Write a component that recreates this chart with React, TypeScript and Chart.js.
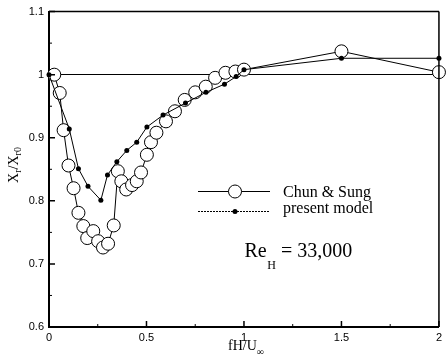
import { useEffect, useRef } from 'react';
import { Chart, registerables } from 'chart.js';

Chart.register(...registerables);

// Chun & Sung (open circles)
const chunX = [0.027, 0.055, 0.075, 0.1, 0.126, 0.151, 0.176, 0.196, 0.227, 0.252, 0.277, 0.303, 0.332, 0.353, 0.371, 0.396, 0.426, 0.45, 0.472, 0.502, 0.523, 0.551, 0.6, 0.646, 0.696, 0.75, 0.804, 0.852, 0.905, 0.956, 1.0, 1.5, 2.0];
const chunY = [1.0, 0.971, 0.912, 0.856, 0.82, 0.781, 0.76, 0.741, 0.752, 0.736, 0.726, 0.732, 0.761, 0.847, 0.831, 0.818, 0.825, 0.831, 0.845, 0.873, 0.893, 0.908, 0.926, 0.942, 0.96, 0.972, 0.981, 0.995, 1.003, 1.005, 1.008, 1.037, 1.004];

// present model (filled dots)
const modelX = [0.0, 0.104, 0.151, 0.2, 0.266, 0.3, 0.348, 0.399, 0.45, 0.502, 0.585, 0.7, 0.805, 0.9, 0.96, 1.0, 1.5, 2.0];
const modelY = [1.0, 0.914, 0.851, 0.823, 0.801, 0.841, 0.862, 0.88, 0.893, 0.917, 0.936, 0.955, 0.972, 0.985, 0.997, 1.008, 1.026, 1.026];

const xTicks = [0, 0.5, 1, 1.5, 2];
const xMinorTicks = [0.25, 0.75, 1.25, 1.75];
const yTicks = [0.6, 0.7, 0.8, 0.9, 1.0, 1.1];
const yMinorTicks = [0.65, 0.75, 0.85, 0.95, 1.05];
const refLineValue = 1.0;

const legendLabels = ['Chun & Sung', 'present model'];

const fmt = (v: number) => String(Number(v.toFixed(2)));

const decorPlugin = {
  id: 'decor',
  afterDatasetsDraw(chart: any) {
    const { ctx, chartArea, scales } = chart;
    const { left, right, top, bottom } = chartArea;
    const xs = scales.x;
    const ys = scales.y;
    ctx.save();
    ctx.strokeStyle = '#000';
    // top & right frame
    ctx.lineWidth = 1.5;
    ctx.beginPath();
    ctx.moveTo(left, top);
    ctx.lineTo(right, top);
    ctx.moveTo(right, top);
    ctx.lineTo(right, bottom);
    ctx.stroke();
    // inward ticks
    ctx.lineWidth = 1.5;
    ctx.beginPath();
    yTicks.forEach((v) => {
      const y = ys.getPixelForValue(v);
      ctx.moveTo(left, y);
      ctx.lineTo(left + 6, y);
    });
    xTicks.forEach((v) => {
      const x = xs.getPixelForValue(v);
      ctx.moveTo(x, bottom);
      ctx.lineTo(x, bottom - 6);
    });
    ctx.stroke();
    ctx.lineWidth = 1;
    ctx.beginPath();
    yMinorTicks.forEach((v) => {
      const y = ys.getPixelForValue(v);
      ctx.moveTo(left, y);
      ctx.lineTo(left + 3, y);
    });
    xMinorTicks.forEach((v) => {
      const x = xs.getPixelForValue(v);
      ctx.moveTo(x, bottom);
      ctx.lineTo(x, bottom - 3);
    });
    ctx.stroke();

    // legend
    const lx0 = 198, lx1 = 270, mx = 235;
    const ly1 = 191.5, ly2 = 211.5;
    ctx.lineWidth = 1;
    ctx.beginPath();
    ctx.moveTo(lx0, ly1);
    ctx.lineTo(lx1, ly1);
    ctx.stroke();
    ctx.setLineDash([2, 1]);
    ctx.beginPath();
    ctx.moveTo(lx0, ly2);
    ctx.lineTo(lx1, ly2);
    ctx.stroke();
    ctx.setLineDash([]);
    ctx.fillStyle = '#fff';
    ctx.beginPath();
    ctx.arc(mx, ly1, 6.5, 0, Math.PI * 2);
    ctx.fill();
    ctx.stroke();
    ctx.fillStyle = '#000';
    ctx.beginPath();
    ctx.arc(mx, ly2, 2.5, 0, Math.PI * 2);
    ctx.fill();

    ctx.fillStyle = '#000';
    ctx.textAlign = 'left';
    ctx.textBaseline = 'alphabetic';
    ctx.font = '16px "Liberation Serif"';
    ctx.fillText(legendLabels[0], 283, 197);
    ctx.fillText(legendLabels[1], 283, 213);

    // Re_H annotation
    ctx.font = '20px "Liberation Serif"';
    let x = 244.5;
    ctx.fillText('Re', x, 256.5);
    x += ctx.measureText('Re').width + 0.5;
    ctx.font = '12px "Liberation Serif"';
    ctx.fillText('H', x, 269);
    x += ctx.measureText('H').width;
    ctx.font = '20px "Liberation Serif"';
    ctx.fillText(' = 33,000', x, 256.5);

    // x title
    ctx.font = '14px "Liberation Serif"';
    const main = 'fH/U';
    const wMain = ctx.measureText(main).width;
    ctx.font = '10px "Liberation Serif"';
    const wSub = ctx.measureText('\u221e').width;
    let tx = 246 - (wMain + wSub) / 2;
    ctx.font = '14px "Liberation Serif"';
    ctx.fillText(main, tx, 350);
    ctx.font = '10px "Liberation Serif"';
    ctx.fillText('\u221e', tx + wMain, 355);

    // y title (rotated)
    ctx.translate(14, 165);
    ctx.rotate(-Math.PI / 2);
    const parts: [string, number, number][] = [
      ['X', 14, 0],
      ['r', 10, 3],
      ['/X', 14, 0],
      ['r0', 10, 3],
    ];
    let total = 0;
    parts.forEach(([t, s]) => {
      ctx.font = `${s}px "Liberation Serif"`;
      total += ctx.measureText(t).width;
    });
    let px = -total / 2;
    parts.forEach(([t, s, dy]) => {
      ctx.font = `${s}px "Liberation Serif"`;
      ctx.fillText(t, px, 4 + dy);
      px += ctx.measureText(t).width;
    });
    ctx.restore();
  },
};

export default function App() {
  const ref = useRef<HTMLCanvasElement | null>(null);
  useEffect(() => {
    document.body.style.margin = '0';
    const canvas = ref.current;
    if (!canvas) return;
    const chart = new Chart(canvas, {
      type: 'scatter',
      data: {
        datasets: [
          {
            label: legendLabels[1],
            data: modelX.map((x, i) => ({ x, y: modelY[i] })),
            showLine: true,
            borderColor: '#000',
            borderWidth: 1,
            backgroundColor: '#000',
            pointRadius: 2.5,
            pointBorderWidth: 0,
            pointBackgroundColor: '#000',
            order: 0,
            clip: false as any,
          },
          {
            label: legendLabels[0],
            data: chunX.map((x, i) => ({ x, y: chunY[i] })),
            showLine: true,
            borderColor: '#000',
            borderWidth: 1,
            pointRadius: 6.5,
            pointBorderWidth: 1,
            pointBorderColor: '#000',
            pointBackgroundColor: '#fff',
            order: 1,
            clip: false as any,
          },
        ],
      },
      options: {
        responsive: false,
        animation: false,
        events: [],
        layout: { padding: { top: 11, right: 2, left: 0, bottom: 0 }, autoPadding: false } as any,
        plugins: {
          legend: { display: false },
          tooltip: { enabled: false },
          title: { display: false },
        },
        scales: {
          x: {
            type: 'linear',
            min: 0,
            max: 2,
            afterBuildTicks: (s: any) => {
              s.ticks = xTicks.map((v) => ({ value: v }));
            },
            afterFit: (s: any) => {
              s.height = 34;
            },
            grid: { display: false, drawTicks: false },
            border: { display: true, color: '#000', width: 2 },
            ticks: {
              padding: 4,
              color: '#000',
              font: { family: '"Liberation Sans"', size: 11 },
              callback: (v: any) => fmt(Number(v)),
              maxRotation: 0,
              autoSkip: false,
            },
          },
          y: {
            type: 'linear',
            min: 0.6,
            max: 1.1,
            afterBuildTicks: (s: any) => {
              s.ticks = yTicks.map((v) => ({ value: v }));
            },
            afterFit: (s: any) => {
              s.width = 49;
            },
            grid: {
              drawTicks: false,
              lineWidth: 1,
              color: (c: any) =>
                c.tick && Math.abs(c.tick.value - refLineValue) < 1e-6 ? '#000' : 'rgba(0,0,0,0)',
            },
            border: { display: true, color: '#000', width: 2 },
            ticks: {
              padding: 5,
              color: '#000',
              font: { family: '"Liberation Sans"', size: 11 },
              callback: (v: any) => fmt(Number(v)),
              autoSkip: false,
            },
          },
        },
      },
      plugins: [decorPlugin],
    });
    return () => chart.destroy();
  }, []);
  return <canvas ref={ref} width={446} height={361} style={{ display: 'block' }} />;
}
